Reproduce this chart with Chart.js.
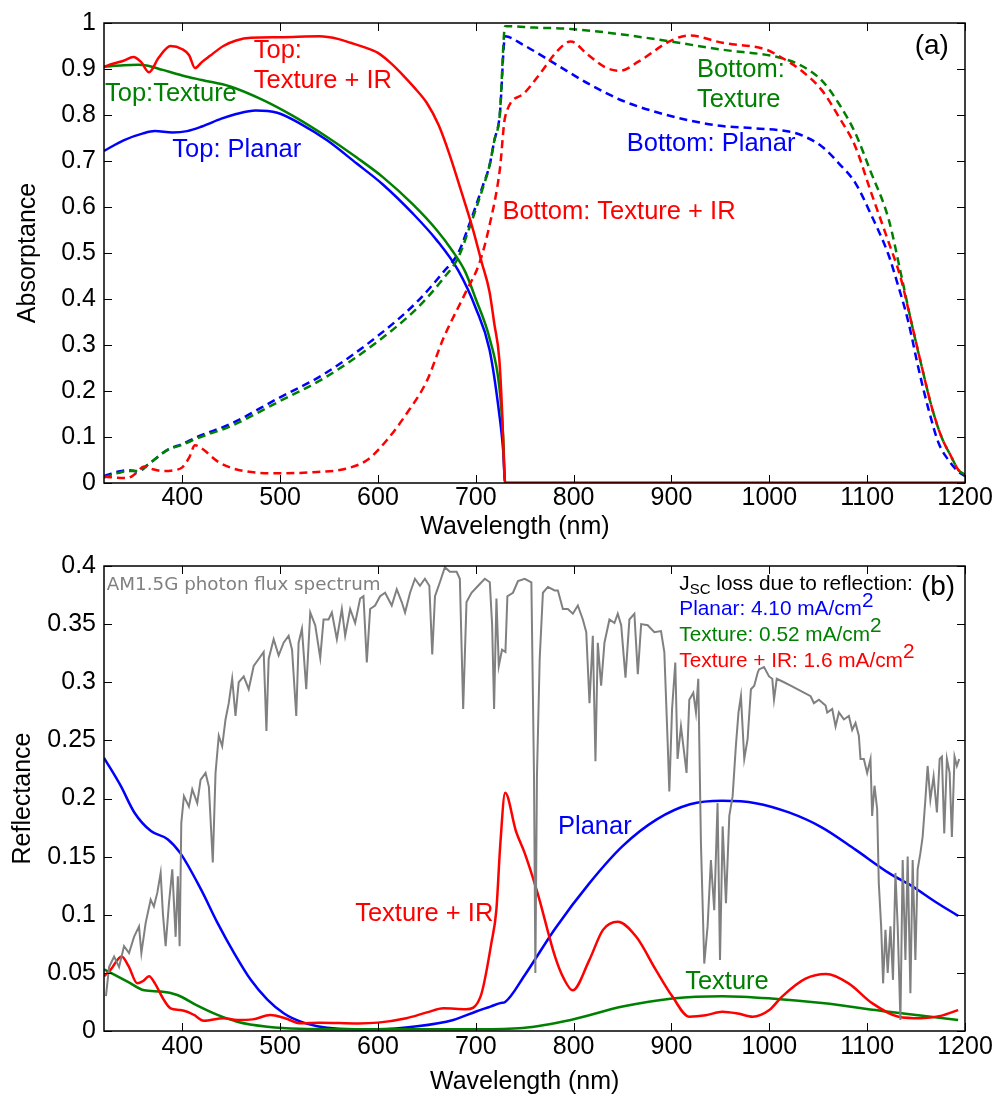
<!DOCTYPE html>
<html><head><meta charset="utf-8">
<script src="https://cdn.jsdelivr.net/npm/chart.js@4.4.0/dist/chart.umd.min.js"></script>
<style>
html,body{margin:0;padding:0;background:#fff;}
#wrap{position:relative;width:996px;height:1098px;overflow:hidden;background:#fff;}
#ca{position:absolute;left:0;top:0;}
#cb{position:absolute;left:0;top:540px;}
</style></head><body>
<div id="wrap"><canvas id="ca" width="996" height="550"></canvas><canvas id="cb" width="996" height="558"></canvas></div>
<script>
// ---------- tick labels ----------
const xTicks = [400, 500, 600, 700, 800, 900, 1000, 1100, 1200];
const yTicksA = [0, 0.1, 0.2, 0.3, 0.4, 0.5, 0.6, 0.7, 0.8, 0.9, 1];
const yTicksB = [0, 0.05, 0.1, 0.15, 0.2, 0.25, 0.3, 0.35, 0.4];

// ---------- panel (a): absorptance ----------
const topPlanarNm = [320,340,360,372,390,405,420,440,455,475,497,520,548,578,605,636,660,682,700,714,724,728,730,1200];
const topPlanarAbs = [0.722,0.745,0.760,0.765,0.762,0.765,0.775,0.792,0.802,0.810,0.805,0.782,0.745,0.695,0.649,0.585,0.528,0.462,0.380,0.290,0.150,0.070,0,0];

const topTextureNm = [320,340,355,365,380,400,420,449,480,514,551,578,605,636,660,676,689,700,714,724,728,730,1200];
const topTextureAbs = [0.905,0.908,0.909,0.907,0.898,0.886,0.876,0.862,0.835,0.797,0.748,0.708,0.665,0.605,0.550,0.505,0.460,0.400,0.315,0.210,0.100,0,0];

const topIRNm = [320,330,340,350,358,366,376,388,400,407,413,420,428,442,455,470,500,540,560,572,585,600,612,625,637,650,662,673,685,697,706,714,719,724,727,729,730,1200];
const topIRAbs = [0.905,0.912,0.918,0.926,0.915,0.893,0.925,0.950,0.943,0.930,0.902,0.915,0.928,0.950,0.962,0.968,0.969,0.971,0.965,0.957,0.948,0.935,0.915,0.888,0.860,0.826,0.778,0.715,0.635,0.552,0.480,0.416,0.345,0.270,0.150,0.030,0,0];

const botPlanarNm = [320,335,345,355,365,385,400,415,450,497,545,600,640,667,682,694,707,714,719,724.5,730,748,782,816,850,885,919,952,986,1020,1033,1054,1071,1088,1103,1122,1129,1142,1153,1163,1173,1183,1193,1200];
const botPlanarAbs = [0.015,0.025,0.028,0.025,0.040,0.072,0.085,0.100,0.129,0.183,0.237,0.320,0.394,0.459,0.500,0.566,0.645,0.690,0.745,0.800,0.971,0.953,0.910,0.867,0.831,0.806,0.788,0.776,0.771,0.764,0.756,0.731,0.695,0.652,0.588,0.495,0.448,0.351,0.244,0.158,0.087,0.050,0.025,0.015];

const botTextureNm = [320,335,345,355,365,385,400,415,450,497,545,600,640,667,682,694,707,714,719,724.5,730,760,797,850,898,952,1010,1033,1054,1071,1088,1103,1122,1134,1145,1156,1166,1176,1186,1193,1200];
const botTextureAbs = [0.012,0.022,0.026,0.026,0.040,0.072,0.083,0.097,0.124,0.175,0.228,0.308,0.380,0.445,0.490,0.558,0.640,0.690,0.745,0.800,0.993,0.990,0.987,0.975,0.960,0.942,0.925,0.907,0.874,0.825,0.760,0.680,0.573,0.460,0.351,0.251,0.165,0.100,0.057,0.029,0.018];

const botIRNm = [320,330,344,352,361,370,381,392,400,407,413,420,436,450,466,497,520,538,565,589,609,629,650,667,690,704,714,724.5,730,748,765,782,797,814,833,847,867,898,918,952,997,1010,1033,1054,1071,1088,1103,1122,1134,1145,1156,1166,1176,1186,1193,1200];
const botIRAbs = [0.014,0.012,0.011,0.020,0.036,0.030,0.026,0.028,0.034,0.055,0.082,0.075,0.047,0.033,0.025,0.021,0.022,0.024,0.030,0.050,0.093,0.150,0.222,0.315,0.416,0.480,0.560,0.680,0.796,0.845,0.888,0.936,0.960,0.932,0.903,0.896,0.917,0.960,0.973,0.957,0.942,0.928,0.896,0.853,0.796,0.731,0.638,0.523,0.448,0.351,0.251,0.165,0.100,0.057,0.029,0.018];

// ---------- panel (b): reflectance ----------
const refPlanarNm = [320,337,351,368,385,398,419,436,453,470,487,504,521,538,560,600,640,677,701,715,725,730,750,781,816,850,885,919,952,986,1020,1054,1088,1122,1147,1170,1193];
const refPlanar = [0.235,0.211,0.188,0.172,0.165,0.153,0.122,0.093,0.067,0.044,0.027,0.015,0.008,0.004,0.002,0.0015,0.004,0.0095,0.017,0.021,0.024,0.025,0.048,0.088,0.127,0.159,0.182,0.195,0.198,0.196,0.188,0.175,0.156,0.136,0.124,0.111,0.099];

const refTextureNm = [320,344,361,378,395,415,436,456,487,520,600,700,748,797,850,901,952,1002,1054,1122,1193];
const refTexture = [0.053,0.0425,0.035,0.034,0.031,0.022,0.0138,0.008,0.0037,0.002,0.0015,0.0015,0.0026,0.0095,0.021,0.028,0.030,0.028,0.024,0.0166,0.0095];

const refIRNm = [320,327,338,345,354,360,366,372,381,388,398,405,412,422,442,456,472,490,505,521,541,580,600,629,650,667,690,705,716,721,725,730,741,750,763,781,790,799,816,830,845,864,884,901,918,935,952,968,983,1000,1013,1037,1058,1081,1105,1132,1155,1175,1193];
const refIR = [0.047,0.053,0.064,0.056,0.041,0.043,0.047,0.041,0.027,0.0195,0.018,0.0166,0.0138,0.0089,0.011,0.0095,0.010,0.0138,0.011,0.0066,0.0072,0.0065,0.0072,0.011,0.016,0.0195,0.0187,0.030,0.076,0.104,0.160,0.205,0.172,0.153,0.119,0.064,0.045,0.035,0.061,0.087,0.094,0.081,0.0526,0.0296,0.0123,0.0135,0.0166,0.015,0.0123,0.018,0.0296,0.045,0.049,0.041,0.024,0.0123,0.011,0.013,0.018];

const am15Nm = [322,325.2,330.3,335.4,340.5,345.6,350.7,355.8,358.2,362.6,367.7,371,374.5,377.9,380.2,383,386.4,389.8,393.2,395.5,397.3,399,401.7,406.8,410.2,415.3,418.7,423.8,427.2,431.2,434,437.3,440.8,444.2,447.5,451,454.4,457.7,462.8,467.9,473,478.1,483.2,486,488.3,493.4,498.5,503.6,508.7,512.2,516.5,518.9,522.3,526.7,530.8,535.9,541,544.4,549.5,552.9,558,563.1,566.5,571.6,576.7,581.8,585.2,588.6,592,597.1,602.2,607.3,614.1,619.2,624.3,627.7,632.8,637.8,642.9,648,652.5,655.5,658.3,663.3,668.4,673.5,680.4,683.7,687.1,690.5,695.6,702.4,709.2,714.3,716.7,718.7,721.1,723.5,726.8,730.3,732.3,738,743.1,750,756.8,759.5,760.9,762.5,765.3,768.6,773.7,780.6,783.9,789,794.1,799.2,804.3,809.4,812.9,816.2,819.6,822.3,824.7,828.1,831.5,836.6,841.7,845.1,848.6,853,857,862.1,865.6,869,875.7,882.5,889.3,892.7,896.1,897.8,900.6,903.9,906.2,909.7,913,915.4,918.2,922.3,925,927.4,930.1,933.5,936.9,940.3,943.7,947.1,949.6,952.3,955.7,959.1,962.5,965.8,968.5,971,974.4,977.8,981.2,984.6,988,989.5,994.6,999.7,1003,1004.8,1007.6,1015,1021.8,1028.6,1035.4,1042.2,1045.6,1050.7,1057.5,1059.2,1064.3,1067.7,1071.1,1076.2,1081.3,1084.7,1088.1,1091.5,1093.2,1096.6,1100,1103.4,1105.1,1107.5,1110.2,1111.9,1114.3,1116.3,1118.7,1121,1123.8,1126.4,1128.9,1131.2,1134,1136.3,1139.1,1141.4,1144.2,1146.5,1149.3,1151.6,1154.4,1156.7,1159.5,1161.8,1164.6,1167.9,1171.3,1174.1,1176.4,1178.8,1181.5,1184.3,1186.6,1189.3,1191.7,1194.1];
const am15Flux = [0.03,0.055,0.064,0.055,0.073,0.067,0.081,0.09,0.067,0.093,0.113,0.107,0.119,0.136,0.101,0.073,0.11,0.139,0.081,0.133,0.073,0.179,0.202,0.193,0.208,0.196,0.216,0.222,0.21,0.145,0.222,0.254,0.245,0.268,0.282,0.303,0.271,0.3,0.305,0.294,0.314,0.32,0.326,0.258,0.32,0.337,0.323,0.334,0.34,0.328,0.271,0.334,0.346,0.294,0.36,0.349,0.321,0.354,0.354,0.36,0.337,0.363,0.34,0.363,0.351,0.372,0.374,0.317,0.363,0.366,0.374,0.377,0.366,0.38,0.369,0.36,0.377,0.389,0.383,0.389,0.383,0.324,0.374,0.386,0.399,0.395,0.395,0.389,0.277,0.369,0.377,0.383,0.389,0.386,0.349,0.277,0.372,0.314,0.328,0.326,0.374,0.377,0.387,0.389,0.386,0.219,0.05,0.219,0.32,0.377,0.382,0.379,0.379,0.363,0.363,0.359,0.366,0.354,0.343,0.282,0.34,0.232,0.334,0.297,0.334,0.354,0.351,0.359,0.349,0.304,0.354,0.359,0.307,0.35,0.349,0.343,0.344,0.326,0.248,0.206,0.277,0.317,0.234,0.262,0.239,0.222,0.285,0.291,0.274,0.303,0.162,0.058,0.09,0.147,0.104,0.196,0.061,0.176,0.11,0.185,0.202,0.245,0.274,0.288,0.234,0.251,0.294,0.297,0.308,0.311,0.313,0.305,0.303,0.285,0.303,0.3,0.297,0.294,0.291,0.288,0.282,0.285,0.28,0.274,0.277,0.262,0.274,0.268,0.271,0.259,0.265,0.254,0.234,0.234,0.222,0.234,0.185,0.211,0.191,0.127,0.09,0.041,0.087,0.05,0.09,0.044,0.136,0.09,0.0095,0.147,0.061,0.15,0.0325,0.147,0.061,0.139,0.153,0.167,0.199,0.228,0.199,0.219,0.188,0.234,0.236,0.17,0.234,0.222,0.167,0.236,0.228,0.234];

// ---------- text annotations (data coordinates) ----------
const notesA = [
  {runs:[{t:'Top:'}], nm:473, v:0.925, color:'#ff0000'},
  {runs:[{t:'Texture + IR'}], nm:473, v:0.858, color:'#ff0000'},
  {runs:[{t:'Top:Texture'}], nm:321, v:0.830, color:'#008000'},
  {runs:[{t:'Top: Planar'}], nm:389.8, v:0.708, color:'#0000ff'},
  {runs:[{t:'Bottom:'}], nm:926, v:0.883, color:'#008000'},
  {runs:[{t:'Texture'}], nm:926, v:0.818, color:'#008000'},
  {runs:[{t:'Bottom: Planar'}], nm:854.3, v:0.722, color:'#0000ff'},
  {runs:[{t:'Bottom: Texture + IR'}], nm:727.2, v:0.573, color:'#ff0000'},
  {runs:[{t:'(a)'}], nm:1148.6, v:0.932, color:'#000000', size:28}
];
const notesB = [
  {runs:[{t:'AM1.5G photon flux spectrum'}], nm:322.9, v:0.379, color:'#808080', size:18.3, family:"'DejaVu Sans', Verdana, sans-serif"},
  {runs:[{t:'J'},{t:'SC', scale:0.72, dy:4},{t:' loss due to reflection:'}], nm:908, v:0.3796, color:'#000000', size:20.8},
  {runs:[{t:'Planar: 4.10 mA/cm'},{t:'2', dy:-8.5}], nm:908, v:0.3578, color:'#0000ff', size:20.8},
  {runs:[{t:'Texture: 0.52 mA/cm'},{t:'2', dy:-8.5}], nm:908, v:0.3356, color:'#008000', size:20.8},
  {runs:[{t:'Texture + IR: 1.6 mA/cm'},{t:'2', dy:-8.5}], nm:908, v:0.3132, color:'#ff0000', size:20.8},
  {runs:[{t:'(b)'}], nm:1155, v:0.375, color:'#000000', size:28},
  {runs:[{t:'Planar'}], nm:784, v:0.1696, color:'#0000ff'},
  {runs:[{t:'Texture + IR'}], nm:576.7, v:0.0942, color:'#ff0000'},
  {runs:[{t:'Texture'}], nm:914, v:0.036, color:'#008000'}
];

// ---------- helpers ----------
const FONT = "'Liberation Sans', Arial, Helvetica, sans-serif";
Chart.defaults.font.family = FONT;
Chart.defaults.font.size = 25;
Chart.defaults.color = '#000';

function zip(xs, ys) { return xs.map((x, i) => ({x: x, y: ys[i]})); }

function line(label, xs, ys, color, dashed, smooth, width) {
  return {
    label: label, data: zip(xs, ys), borderColor: color, backgroundColor: color,
    borderWidth: width || 2.5, borderDash: dashed ? [8, 5] : [], pointRadius: 0,
    fill: false, tension: 0, cubicInterpolationMode: smooth ? 'monotone' : 'default'
  };
}

const frameTicks = {
  id: 'frameTicks',
  afterDatasetsDraw(chart) {
    const {ctx, chartArea: a, scales: {x, y}} = chart;
    ctx.save();
    ctx.strokeStyle = '#000';
    ctx.lineWidth = 1;
    ctx.beginPath();
    x.ticks.forEach(t => {
      const px = Math.round(x.getPixelForValue(t.value)) + 0.5;
      ctx.moveTo(px, a.bottom); ctx.lineTo(px, a.bottom - 8);
      ctx.moveTo(px, a.top); ctx.lineTo(px, a.top + 8);
    });
    y.ticks.forEach(t => {
      const py = Math.round(y.getPixelForValue(t.value)) + 0.5;
      ctx.moveTo(a.left, py); ctx.lineTo(a.left + 8, py);
      ctx.moveTo(a.right, py); ctx.lineTo(a.right - 8, py);
    });
    ctx.stroke();
    ctx.lineWidth = 1.5;
    ctx.strokeRect(a.left, a.top, a.right - a.left, a.bottom - a.top);
    ctx.restore();
  }
};

const notesPlugin = {
  id: 'notes',
  afterDraw(chart, args, opts) {
    const {ctx, scales: {x, y}} = chart;
    ctx.save();
    ctx.textBaseline = 'alphabetic';
    ctx.textAlign = 'left';
    (opts.items || []).forEach(n => {
      let cx = x.getPixelForValue(n.nm);
      const by = y.getPixelForValue(n.v);
      const size = n.size || 25.5;
      const fam = n.family || FONT;
      n.runs.forEach(r => {
        ctx.font = (size * (r.scale || 1)) + 'px ' + fam;
        ctx.fillStyle = n.color;
        ctx.fillText(r.t, cx, by + (r.dy || 0));
        cx += ctx.measureText(r.t).width;
      });
    });
    // x-axis title, centred on a wavelength below the tick labels
    const xt = opts.xTitle;
    if (xt) {
      ctx.font = '25px ' + FONT;
      ctx.fillStyle = '#000';
      ctx.textAlign = 'center';
      ctx.fillText(xt.text, x.getPixelForValue(xt.nm), chart.height - xt.fromBottom);
    }
    ctx.restore();
  }
};

function xScale(tickPad) {
  return {
    type: 'linear', min: 320, max: 1200,
    afterBuildTicks: s => { s.ticks = xTicks.map(v => ({value: v})); },
    afterFit: s => { s.height = 67; },
    grid: {display: false, drawTicks: false},
    border: {display: false},
    ticks: {padding: tickPad, color: '#000', font: {size: 25}, maxRotation: 0, autoSkip: false, callback: v => String(v)},
    title: {display: false}
  };
}
function yScale(ticksArr, max, title, titlePad) {
  return {
    type: 'linear', min: 0, max: max,
    afterBuildTicks: s => { s.ticks = ticksArr.map(v => ({value: v})); },
    afterFit: s => { s.width = 104; },
    grid: {display: false, drawTicks: false},
    border: {display: false},
    ticks: {padding: 8, color: '#000', font: {size: 25}, autoSkip: false, callback: v => String(v)},
    title: {display: true, text: title, color: '#000', font: {size: 25}, padding: {top: titlePad, bottom: 0}}
  };
}

function baseOptions(padTop, xTickPad, xTitle, yTicks, yMax, yTitle, yTitlePad, notes) {
  return {
    responsive: false, animation: false, devicePixelRatio: 1, events: [],
    layout: {padding: {top: padTop, right: 31, left: 0, bottom: 0}},
    scales: {x: xScale(xTickPad), y: yScale(yTicks, yMax, yTitle, yTitlePad)},
    plugins: {legend: {display: false}, tooltip: {enabled: false}, notes: {items: notes, xTitle: xTitle}}
  };
}

new Chart(document.getElementById('ca'), {
  type: 'line',
  data: {datasets: [
    line('Top: Texture + IR', topIRNm, topIRAbs, '#ff0000', false, true),
    line('Bottom: Texture + IR', botIRNm, botIRAbs, '#ff0000', true, true),
    line('Top: Texture', topTextureNm, topTextureAbs, '#008000', false, true),
    line('Bottom: Texture', botTextureNm, botTextureAbs, '#008000', true, true),
    line('Top: Planar', topPlanarNm, topPlanarAbs, '#0000ff', false, true),
    line('Bottom: Planar', botPlanarNm, botPlanarAbs, '#0000ff', true, true)
  ]},
  options: baseOptions(18, 0, {text: 'Wavelength (nm)', nm: 740, fromBottom: 16}, yTicksA, 1, 'Absorptance', 13, notesA),
  plugins: [frameTicks, notesPlugin]
});

new Chart(document.getElementById('cb'), {
  type: 'line',
  data: {datasets: [
    line('AM1.5G photon flux spectrum', am15Nm, am15Flux, '#808080', false, false, 2),
    line('Texture + IR', refIRNm, refIR, '#ff0000', false, true),
    line('Texture', refTextureNm, refTexture, '#008000', false, true),
    line('Planar', refPlanarNm, refPlanar, '#0000ff', false, true)
  ]},
  options: baseOptions(26, 1, {text: 'Wavelength (nm)', nm: 750, fromBottom: 9}, yTicksB, 0.4, 'Reflectance', 8, notesB),
  plugins: [frameTicks, notesPlugin]
});
</script></body></html>
